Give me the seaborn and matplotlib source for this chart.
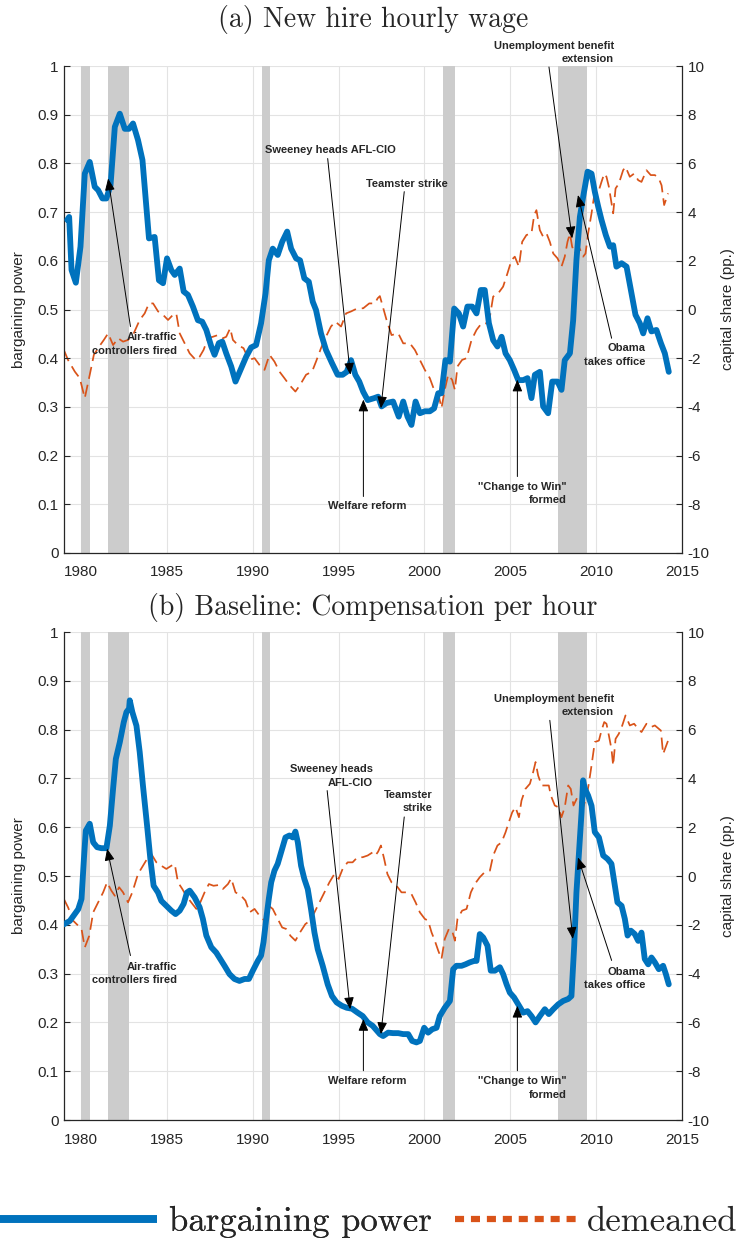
import numpy as np
import matplotlib
matplotlib.use("Agg")
import matplotlib.pyplot as plt
from matplotlib.lines import Line2D
from matplotlib.ticker import FuncFormatter
import seaborn as sns

# ---- data ----
# (a) new hire hourly wage: bargaining power (left axis)
yr_a_bp = [1979.19, 1979.30, 1979.44, 1979.69, 1979.96, 1980.21, 1980.50, 1980.79, 1980.99, 1981.24,
           1981.47, 1981.71, 1981.96, 1982.25, 1982.54, 1982.79, 1983.02, 1983.31, 1983.57, 1983.95,
           1984.28, 1984.53, 1984.77, 1985.00, 1985.25, 1985.45, 1985.74, 1985.97, 1986.22, 1986.51,
           1986.80, 1987.05, 1987.29, 1987.58, 1987.77, 1988.02, 1988.22, 1988.45, 1988.74, 1988.99,
           1989.32, 1989.61, 1989.90, 1990.19, 1990.48, 1990.74, 1990.93, 1991.16, 1991.45, 1991.71,
           1992.00, 1992.23, 1992.52, 1992.75, 1993.00, 1993.26, 1993.49, 1993.68, 1993.97, 1994.26,
           1994.61, 1994.94, 1995.23, 1995.47, 1995.72, 1995.97, 1996.20, 1996.43, 1996.69, 1997.07,
           1997.30, 1997.50, 1997.79, 1998.17, 1998.50, 1998.76, 1999.01, 1999.24, 1999.48, 1999.73,
           2000.02, 2000.31, 2000.56, 2000.80, 2000.99, 2001.22, 2001.48, 2001.73, 2002.00, 2002.25,
           2002.50, 2002.78, 2003.03, 2003.28, 2003.51, 2003.75, 2004.00, 2004.25, 2004.49, 2004.72,
           2004.97, 2005.22, 2005.46, 2005.75, 2006.00, 2006.23, 2006.43, 2006.72, 2006.91, 2007.20,
           2007.44, 2007.75, 2007.98, 2008.17, 2008.47, 2008.66, 2008.85, 2009.05, 2009.24, 2009.50,
           2009.73, 2009.92, 2010.12, 2010.31, 2010.56, 2010.80, 2010.99, 2011.18, 2011.48, 2011.77,
           2012.06, 2012.29, 2012.54, 2012.74, 2012.99, 2013.22, 2013.51, 2013.77, 2014.00, 2014.23]
bp_a = [0.684, 0.690, 0.581, 0.555, 0.629, 0.779, 0.803, 0.752, 0.745, 0.728,
        0.728, 0.755, 0.875, 0.902, 0.871, 0.871, 0.882, 0.848, 0.807, 0.646,
        0.649, 0.560, 0.554, 0.605, 0.581, 0.571, 0.584, 0.537, 0.530, 0.506,
        0.478, 0.475, 0.458, 0.424, 0.407, 0.431, 0.434, 0.410, 0.383, 0.352,
        0.379, 0.403, 0.422, 0.427, 0.472, 0.533, 0.601, 0.625, 0.612, 0.639,
        0.660, 0.625, 0.605, 0.601, 0.564, 0.557, 0.516, 0.499, 0.451, 0.417,
        0.390, 0.366, 0.366, 0.372, 0.396, 0.366, 0.352, 0.331, 0.314, 0.318,
        0.321, 0.301, 0.308, 0.311, 0.280, 0.311, 0.280, 0.263, 0.311, 0.287,
        0.291, 0.291, 0.297, 0.328, 0.328, 0.396, 0.393, 0.502, 0.492, 0.465,
        0.506, 0.506, 0.492, 0.540, 0.540, 0.472, 0.437, 0.424, 0.444, 0.410,
        0.396, 0.376, 0.355, 0.355, 0.359, 0.318, 0.366, 0.372, 0.301, 0.287,
        0.352, 0.352, 0.335, 0.396, 0.410, 0.478, 0.601, 0.690, 0.731, 0.783,
        0.779, 0.742, 0.711, 0.684, 0.653, 0.629, 0.632, 0.588, 0.595, 0.588,
        0.533, 0.489, 0.472, 0.451, 0.482, 0.455, 0.458, 0.431, 0.410, 0.372]

# (a) demeaned capital share, pp. (right axis)
yr_a_cs = [1978.99, 1979.24, 1979.63, 1979.92, 1980.21, 1980.50, 1980.74, 1981.05, 1981.32, 1981.57,
           1981.86, 1982.15, 1982.44, 1982.73, 1983.06, 1983.41, 1983.70, 1983.95, 1984.19, 1984.48,
           1984.77, 1985.06, 1985.35, 1985.54, 1985.74, 1986.03, 1986.32, 1986.67, 1986.90, 1987.13,
           1987.38, 1987.67, 1987.97, 1988.26, 1988.45, 1988.68, 1988.84, 1989.13, 1989.46, 1989.77,
           1990.10, 1990.39, 1990.68, 1990.97, 1991.26, 1991.55, 1991.84, 1992.13, 1992.48, 1992.75,
           1993.10, 1993.45, 1993.68, 1993.97, 1994.26, 1994.55, 1994.81, 1995.14, 1995.43, 1995.72,
           1996.10, 1996.43, 1996.78, 1997.11, 1997.27, 1997.40, 1997.79, 1998.08, 1998.47, 1998.76,
           1999.15, 1999.44, 1999.73, 2000.02, 2000.31, 2000.56, 2000.80, 2000.99, 2001.18, 2001.38,
           2001.61, 2001.77, 2001.92, 2002.19, 2002.45, 2002.74, 2003.03, 2003.32, 2003.61, 2003.81,
           2004.00, 2004.29, 2004.58, 2004.83, 2005.07, 2005.26, 2005.50, 2005.69, 2005.94, 2006.23,
           2006.39, 2006.52, 2006.72, 2006.91, 2007.11, 2007.30, 2007.50, 2007.75, 2007.98, 2008.17,
           2008.33, 2008.47, 2008.60, 2008.76, 2008.99, 2009.24, 2009.38, 2009.53, 2009.73, 2009.92,
           2010.16, 2010.31, 2010.47, 2010.60, 2010.74, 2010.85, 2010.99, 2011.13, 2011.32, 2011.57,
           2011.71, 2011.96, 2012.21, 2012.45, 2012.64, 2012.93, 2013.18, 2013.42, 2013.65, 2013.81,
           2013.96, 2014.19]
cs_a = [-1.66, -2.08, -2.55, -2.82, -3.64, -2.68, -1.86, -1.52, -1.25, -0.98,
        -1.46, -1.18, -1.32, -1.25, -0.98, -0.43, -0.16, 0.25, 0.25, -0.08,
        -0.22, -0.43, -0.22, -0.16, -0.98, -1.39, -1.80, -2.07, -1.94, -1.66,
        -1.18, -1.12, -1.05, -1.18, -1.12, -0.77, -1.25, -1.46, -1.59, -2.07,
        -2.00, -2.28, -2.48, -1.86, -2.14, -2.55, -2.82, -3.10, -3.37, -3.10,
        -2.68, -2.55, -2.14, -1.59, -1.12, -0.70, -0.50, -0.70, -0.16, -0.08,
        0.05, 0.05, 0.25, 0.25, 0.46, 0.55, -0.43, -1.05, -0.98, -1.39,
        -1.39, -1.66, -2.07, -2.48, -2.82, -3.30, -3.44, -4.05, -3.30, -2.68,
        -2.89, -3.30, -2.34, -2.07, -2.00, -1.25, -0.84, -0.57, -0.57, -0.29,
        0.53, 0.66, 0.94, 1.48, 2.03, 2.17, 1.76, 2.78, 3.06, 3.12,
        3.88, 4.08, 3.26, 2.99, 3.12, 2.78, 2.30, 2.10, 1.76, 2.17,
        2.78, 3.12, 2.58, 2.30, 2.58, 2.17, 2.30, 3.12, 3.95, 4.84,
        4.90, 5.24, 5.58, 5.45, 5.04, 4.56, 3.95, 4.97, 5.17, 5.72,
        5.86, 5.45, 5.58, 5.31, 5.24, 5.72, 5.52, 5.52, 5.38, 5.10,
        4.29, 4.77]

# (b) baseline, compensation per hour: bargaining power (left axis)
yr_b_bp = [1978.99, 1979.34, 1979.63, 1979.83, 1980.02, 1980.16, 1980.27, 1980.50, 1980.70, 1980.93,
           1981.18, 1981.47, 1981.67, 1981.86, 1982.02, 1982.25, 1982.48, 1982.64, 1982.79, 1982.83,
           1982.98, 1983.22, 1983.41, 1983.60, 1983.84, 1984.03, 1984.22, 1984.48, 1984.67, 1984.96,
           1985.25, 1985.50, 1985.74, 1985.97, 1986.16, 1986.32, 1986.61, 1986.90, 1987.09, 1987.29,
           1987.58, 1987.87, 1988.10, 1988.35, 1988.64, 1988.93, 1989.22, 1989.52, 1989.77, 1990.00,
           1990.29, 1990.48, 1990.62, 1990.78, 1990.93, 1991.07, 1991.26, 1991.45, 1991.65, 1991.90,
           1992.13, 1992.33, 1992.48, 1992.62, 1992.81, 1993.00, 1993.20, 1993.39, 1993.59, 1993.78,
           1994.07, 1994.36, 1994.61, 1994.88, 1995.19, 1995.47, 1995.78, 1996.10, 1996.40, 1996.69,
           1996.98, 1997.15, 1997.40, 1997.59, 1997.88, 1998.17, 1998.47, 1998.76, 1999.05, 1999.28,
           1999.53, 1999.73, 1999.98, 2000.21, 2000.45, 2000.70, 2000.89, 2001.18, 2001.48, 2001.67,
           2001.86, 2002.16, 2002.39, 2002.64, 2002.89, 2003.03, 2003.22, 2003.42, 2003.67, 2003.86,
           2004.10, 2004.39, 2004.58, 2004.78, 2004.97, 2005.22, 2005.46, 2005.75, 2006.00, 2006.23,
           2006.47, 2006.72, 2007.01, 2007.24, 2007.50, 2007.79, 2008.08, 2008.37, 2008.56, 2008.72,
           2008.85, 2008.99, 2009.15, 2009.24, 2009.34, 2009.53, 2009.73, 2009.92, 2010.16, 2010.41,
           2010.66, 2010.89, 2011.09, 2011.24, 2011.48, 2011.67, 2011.83, 2012.02, 2012.25, 2012.45,
           2012.64, 2012.83, 2013.03, 2013.22, 2013.42, 2013.65, 2013.90, 2014.06, 2014.23]
bp_b = [0.401, 0.408, 0.422, 0.432, 0.453, 0.535, 0.593, 0.607, 0.569, 0.559,
        0.557, 0.557, 0.603, 0.679, 0.740, 0.774, 0.815, 0.836, 0.843, 0.860,
        0.836, 0.808, 0.754, 0.685, 0.603, 0.535, 0.480, 0.466, 0.449, 0.439,
        0.429, 0.422, 0.429, 0.443, 0.466, 0.470, 0.456, 0.436, 0.412, 0.378,
        0.354, 0.343, 0.330, 0.316, 0.299, 0.289, 0.285, 0.289, 0.289, 0.306,
        0.326, 0.337, 0.364, 0.412, 0.453, 0.487, 0.511, 0.525, 0.549, 0.579,
        0.583, 0.579, 0.591, 0.569, 0.521, 0.494, 0.473, 0.432, 0.384, 0.350,
        0.316, 0.278, 0.254, 0.241, 0.234, 0.230, 0.228, 0.220, 0.213, 0.200,
        0.193, 0.186, 0.176, 0.172, 0.179, 0.178, 0.178, 0.176, 0.176, 0.162,
        0.159, 0.162, 0.189, 0.179, 0.186, 0.189, 0.213, 0.230, 0.244, 0.309,
        0.316, 0.316, 0.319, 0.323, 0.326, 0.326, 0.381, 0.374, 0.357, 0.306,
        0.306, 0.313, 0.299, 0.278, 0.261, 0.251, 0.237, 0.220, 0.223, 0.213,
        0.200, 0.213, 0.227, 0.217, 0.227, 0.237, 0.244, 0.248, 0.254, 0.357,
        0.466, 0.542, 0.631, 0.696, 0.679, 0.665, 0.644, 0.590, 0.579, 0.542,
        0.535, 0.525, 0.480, 0.446, 0.439, 0.412, 0.378, 0.388, 0.381, 0.367,
        0.384, 0.330, 0.319, 0.333, 0.323, 0.309, 0.316, 0.299, 0.278]

# (b) demeaned capital share, pp. (right axis)
yr_b_cs = [1978.99, 1979.24, 1979.53, 1979.83, 1980.02, 1980.21, 1980.47, 1980.70, 1980.99, 1981.28,
           1981.51, 1981.76, 1981.96, 1982.21, 1982.44, 1982.73, 1982.98, 1983.31, 1983.60, 1983.84,
           1984.09, 1984.38, 1984.67, 1984.96, 1985.25, 1985.45, 1985.64, 1985.89, 1986.12, 1986.41,
           1986.71, 1986.94, 1987.19, 1987.44, 1987.71, 1988.02, 1988.26, 1988.55, 1988.74, 1988.99,
           1989.32, 1989.57, 1989.81, 1990.10, 1990.39, 1990.68, 1990.93, 1991.16, 1991.45, 1991.71,
           1991.94, 1992.19, 1992.48, 1992.75, 1993.06, 1993.33, 1993.59, 1993.88, 1994.17, 1994.46,
           1994.75, 1995.00, 1995.23, 1995.52, 1995.81, 1996.10, 1996.40, 1996.69, 1996.98, 1997.15,
           1997.30, 1997.46, 1997.65, 1997.84, 1998.08, 1998.37, 1998.66, 1998.95, 1999.24, 1999.48,
           1999.73, 2000.02, 2000.21, 2000.41, 2000.60, 2000.80, 2000.99, 2001.18, 2001.42, 2001.61,
           2001.77, 2001.92, 2002.19, 2002.45, 2002.70, 2002.93, 2003.22, 2003.51, 2003.81, 2004.00,
           2004.25, 2004.49, 2004.72, 2004.91, 2005.11, 2005.30, 2005.50, 2005.65, 2005.88, 2006.14,
           2006.33, 2006.47, 2006.62, 2006.82, 2007.05, 2007.24, 2007.36, 2007.59, 2007.79, 2007.98,
           2008.17, 2008.37, 2008.52, 2008.68, 2008.91, 2009.11, 2009.24, 2009.44, 2009.57, 2009.73,
           2009.92, 2010.16, 2010.31, 2010.47, 2010.60, 2010.74, 2010.89, 2010.99, 2011.13, 2011.32,
           2011.52, 2011.71, 2011.96, 2012.21, 2012.45, 2012.64, 2012.93, 2013.18, 2013.42, 2013.65,
           2013.77, 2013.90, 2014.19]
cs_b = [-0.94, -1.29, -1.83, -2.04, -2.17, -2.93, -2.45, -1.49, -1.08, -0.67,
        -0.26, -0.60, -0.81, -0.46, -0.67, -1.08, -0.67, 0.08, 0.42, 0.70,
        0.90, 0.56, 0.42, 0.29, 0.42, 0.49, -0.26, -0.53, -0.81, -1.08,
        -1.35, -1.08, -0.67, -0.33, -0.40, -0.37, -0.53, -0.33, -0.10, -0.67,
        -0.81, -1.01, -1.49, -1.35, -1.63, -1.83, -1.22, -1.35, -1.76, -2.11,
        -2.17, -2.45, -2.65, -2.31, -1.97, -1.83, -1.49, -1.08, -0.67, -0.26,
        0.08, -0.12, 0.29, 0.56, 0.56, 0.77, 0.77, 0.84, 0.97, 0.85,
        1.00, 1.25, 0.70, 0.08, -0.26, -0.40, -0.67, -0.67, -0.74, -1.08,
        -1.49, -1.76, -1.83, -2.31, -2.65, -3.06, -3.40, -2.58, -2.17, -2.24,
        -2.65, -1.76, -1.42, -1.35, -0.67, -0.33, -0.05, 0.16, 0.22, 0.84,
        1.25, 1.38, 1.79, 2.20, 2.61, 2.82, 2.41, 3.09, 3.57, 3.78,
        4.26, 4.67, 4.12, 3.71, 3.71, 3.71, 3.30, 2.89, 2.82, 2.41,
        2.82, 3.71, 3.57, 2.89, 3.23, 2.96, 2.82, 3.23, 3.78, 4.53,
        5.49, 5.55, 5.96, 6.31, 6.24, 5.76, 5.21, 4.53, 5.62, 5.83,
        6.17, 6.58, 6.17, 6.24, 6.03, 5.90, 6.24, 6.10, 6.17, 6.03,
        5.96, 5.00, 5.55]

# NBER recessions (start, end)
rec_start = [1980.0, 1981.55, 1990.55, 2001.05, 2007.8]
rec_end = [1980.5, 1982.8, 1991.0, 2001.75, 2009.45]

titles = ["(a) New hire hourly wage", "(b) Baseline: Compensation per hour"]

# annotations: text, arrow head, arrow tail, text anchor, alignment
notes_a = [
    ("Air-traffic\ncontrollers fired", (1981.57, 0.769), (1982.87, 0.465), (1985.56, 0.429), "right"),
    ("Sweeney heads AFL-CIO", (1995.68, 0.366), (1994.36, 0.810), (1994.53, 0.827), "center"),
    ("Teamster strike", (1997.46, 0.297), (1998.82, 0.742), (1999.00, 0.757), "center"),
    ("Welfare reform", (1996.44, 0.315), (1996.44, 0.116), (1996.64, 0.097), "center"),
    ("''Change to Win\"\nformed", (2005.41, 0.356), (2005.41, 0.157), (2008.26, 0.122), "right"),
    ("Unemployment benefit\nextension", (2008.60, 0.646), (2007.25, 0.998), (2011.03, 1.028), "right"),
    ("Obama\ntakes office", (2008.94, 0.735), (2010.90, 0.441), (2012.87, 0.407), "right"),
]
notes_b = [
    ("Air-traffic\ncontrollers fired", (1981.51, 0.556), (1982.87, 0.337), (1985.56, 0.300), "right"),
    ("Sweeney heads\nAFL-CIO", (1995.67, 0.227), (1994.33, 0.675), (1996.98, 0.705), "right"),
    ("Teamster\nstrike", (1997.46, 0.176), (1998.82, 0.621), (2000.47, 0.653), "right"),
    ("Welfare reform", (1996.44, 0.207), (1996.44, 0.101), (1996.64, 0.080), "center"),
    ("''Change to Win\"\nformed", (2005.41, 0.234), (2005.41, 0.101), (2008.26, 0.065), "right"),
    ("Unemployment benefit\nextension", (2008.64, 0.371), (2007.30, 0.819), (2011.03, 0.849), "right"),
    ("Obama\ntakes office", (2008.94, 0.538), (2010.90, 0.327), (2012.87, 0.290), "right"),
]

BLUE = "#0072BD"
ORANGE = "#D95319"
AXC = "#262626"
SERIF = ["cmr10", "DejaVu Serif"]

sns.set_style("white")
plt.rcParams["font.family"] = ["Liberation Sans", "DejaVu Sans"]
plt.rcParams["axes.unicode_minus"] = False

fig = plt.figure(figsize=(7.4, 12.41), dpi=100)

panels = [
    (yr_a_bp, bp_a, yr_a_cs, cs_a, notes_a, [64 / 740, 1 - 553 / 1241, 618 / 740, 487 / 1241], 1 - 20 / 1241),
    (yr_b_bp, bp_b, yr_b_cs, cs_b, notes_b, [64 / 740, 1 - 1120 / 1241, 618 / 740, 488 / 1241], 1 - 608 / 1241),
]

for i, (xb, yb, xc, yc, notes, rect, ty) in enumerate(panels):
    assert len(xb) == len(yb) and len(xc) == len(yc)
    ax = fig.add_axes(rect)
    ax2 = ax.twinx()
    # blue line drawn on top of the dashed one
    ax.set_zorder(ax2.get_zorder() + 1)
    ax.patch.set_visible(False)
    ax2.patch.set_visible(True)
    ax2.patch.set_facecolor("white")

    # grid + recession shading on the lower (right) axes
    ax2.xaxis.set_visible(True)
    ax2.set_xlim(1979, 2015)
    ax2.set_ylim(-10, 10)
    ax2.set_xticks(np.arange(1980, 2016, 5))
    ax2.set_yticks(np.arange(-10, 11, 2))
    ax2.tick_params(axis="x", bottom=False, top=False, labelbottom=False, labeltop=False)
    ax2.grid(True, color="#E3E3E3", lw=0.8, zorder=0)
    ax2.set_axisbelow(True)
    for s, e in zip(rec_start, rec_end):
        ax2.axvspan(s, e, color="#CCCCCC", lw=0, zorder=1)

    sns.lineplot(x=xc, y=yc, ax=ax2, color=ORANGE, lw=1.25, zorder=3)
    ax2.lines[-1].set_linestyle((0, (7, 3.5)))

    sns.lineplot(x=xb, y=yb, ax=ax, color=BLUE, lw=4.2, zorder=3)
    ax.set_xlim(1979, 2015)
    ax.set_ylim(0, 1)
    ax.set_xticks(np.arange(1980, 2016, 5))
    ax.set_yticks(np.round(np.arange(0, 1.01, 0.1), 1))
    ax.yaxis.set_major_formatter(FuncFormatter(lambda v, p: "%g" % round(v, 1)))
    ax2.yaxis.set_major_formatter(FuncFormatter(lambda v, p: "%g" % v))
    ax.grid(False)

    ax.tick_params(axis="both", direction="in", length=4, width=0.8, colors=AXC,
                   labelsize=11, labelcolor=AXC)
    ax.tick_params(axis="x", pad=9)
    ax.tick_params(axis="y", pad=4)
    ax2.tick_params(axis="y", direction="in", length=4, width=0.8, colors=AXC,
                    labelsize=11, labelcolor=AXC, pad=4)

    for sp in ["top", "right"]:
        ax.spines[sp].set_visible(False)
    for sp in ["top", "left", "bottom"]:
        ax2.spines[sp].set_visible(False)
    for sp in ["left", "bottom"]:
        ax.spines[sp].set_color(AXC)
        ax.spines[sp].set_linewidth(0.9)
    ax2.spines["right"].set_color(AXC)
    ax2.spines["right"].set_linewidth(0.9)

    ax.set_xlabel("")
    ax.set_ylabel("bargaining power", fontsize=11, color=AXC, labelpad=8)
    ax2.set_ylabel("capital share (pp.)", fontsize=11, color=AXC, labelpad=8, rotation=90)

    for text, head, tail, tpos, ha in notes:
        ax.annotate("", xy=head, xytext=tail,
                    arrowprops=dict(arrowstyle="-|>,head_length=0.6,head_width=0.25",
                                    color="black", lw=0.7, shrinkA=0, shrinkB=0,
                                    mutation_scale=12), zorder=5)
        ax.text(tpos[0], tpos[1], text, ha=ha, va="center", multialignment=ha,
                fontsize=8, fontweight="bold", linespacing=1.45, zorder=6, clip_on=False)

    fig.text(0.504, ty, titles[i], ha="center", va="center", fontsize=20, family=SERIF)

# legend along the bottom
h_bp = Line2D([], [], color=BLUE, lw=5.5, solid_capstyle="butt")
h_cs = Line2D([], [], color=ORANGE, lw=4.5, linestyle=(0, (1.45, 1.1)), dash_capstyle="butt")
leg1 = fig.legend([h_bp], ["bargaining power"], loc="center left",
                  bbox_to_anchor=(-0.004, 1 - 1222 / 1241), frameon=False,
                  prop=dict(family=SERIF, size=25),
                  handlelength=4.6, handletextpad=0.35, borderpad=0, borderaxespad=0)
fig.add_artist(leg1)
fig.legend([h_cs], ["demeaned"], loc="center left",
           bbox_to_anchor=(455 / 740, 1 - 1222 / 1241), frameon=False,
           prop=dict(family=SERIF, size=25),
           handlelength=3.5, handletextpad=0.3, borderpad=0, borderaxespad=0)

fig.savefig("out.png", dpi=100)
